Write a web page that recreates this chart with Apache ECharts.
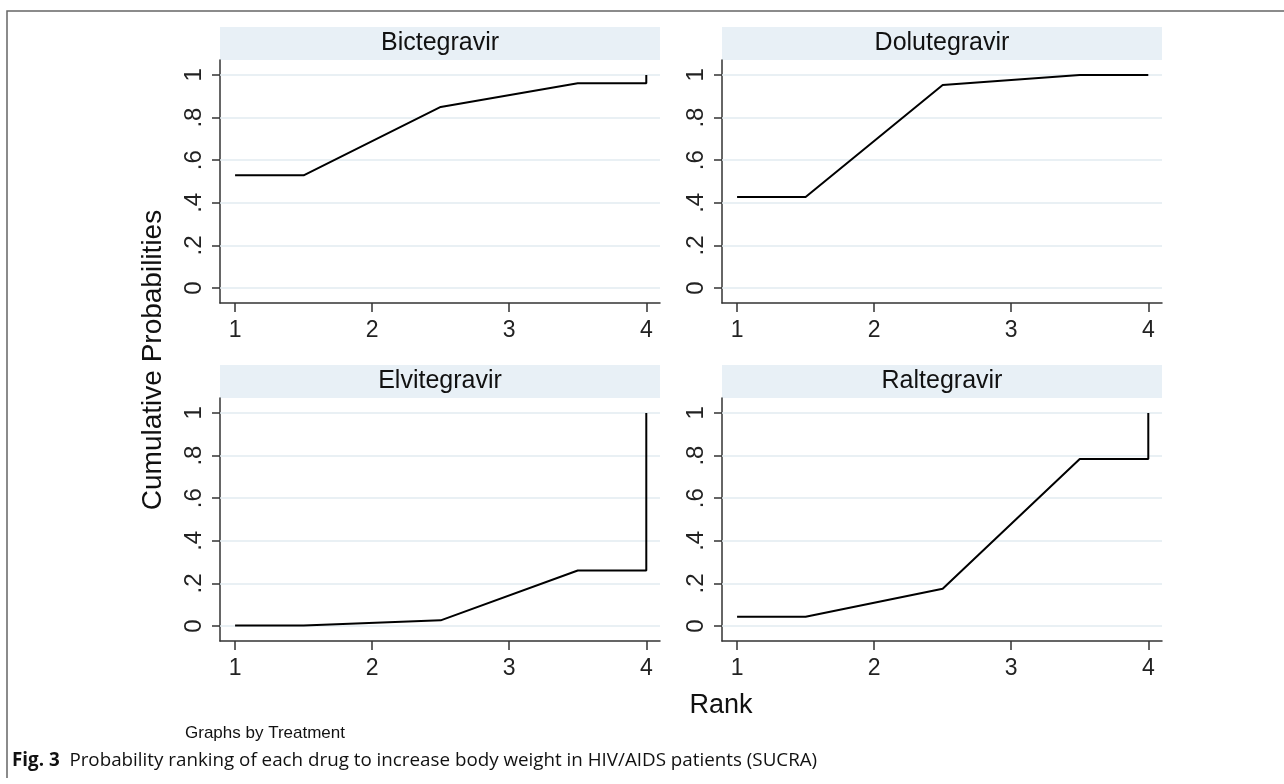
<!DOCTYPE html>
<html>
<head>
<meta charset="utf-8">
<script src="https://cdn.jsdelivr.net/npm/echarts@6/dist/echarts.min.js"></script>
<style>
html,body{margin:0;padding:0;background:#fff;}
#chart{width:1284px;height:784px;}
</style>
</head>
<body>
<div id="chart"></div>
<script>
// ---- data ----
const ranks = [1, 1.5, 2.5, 3.5, 4, 4];
const drugs = ['Bictegravir', 'Dolutegravir', 'Elvitegravir', 'Raltegravir'];
const bictegravir  = [0.529, 0.529, 0.850, 0.961, 0.961, 1.0];
const dolutegravir = [0.427, 0.427, 0.953, 1.0, 1.0, 1.0];
const elvitegravir = [0.003, 0.003, 0.027, 0.261, 0.261, 1.0];
const raltegravir  = [0.044, 0.044, 0.175, 0.784, 0.784, 1.0];
const seriesValues = [bictegravir, dolutegravir, elvitegravir, raltegravir];
const xTicks = [1, 2, 3, 4];
const yTicks = [0, 0.2, 0.4, 0.6, 0.8, 1];
const yTickLabels = ['0', '.2', '.4', '.6', '.8', '1'];
const yTitle = 'Cumulative Probabilities';
const xTitle = 'Rank';
const noteText = 'Graphs by Treatment';
const captionBold = 'Fig. 3';
const captionText = 'Probability ranking of each drug to increase body weight in HIV/AIDS patients (SUCRA)';

// ---- layout ----
const panelLefts = [220, 722, 220, 722];
const panelTops = [60, 60, 398, 398];
const panelW = 440, panelH = 243, stripH = 33;
const font = '"Liberation Sans", Arial, Helvetica, sans-serif';
const axisColor = '#333';

const grids = [], xAxes = [], yAxes = [], series = [], graphics = [];
drugs.forEach((name, i) => {
  grids.push({left: panelLefts[i], top: panelTops[i], width: panelW, height: panelH});
  xAxes.push({
    type: 'value', gridIndex: i, min: 0.89, max: 4.1,
    axisLine: {show: true, onZero: false, lineStyle: {color: axisColor, width: 1.5}},
    axisTick: {show: true, length: 9, customValues: xTicks, lineStyle: {color: axisColor, width: 1.5}},
    axisLabel: {customValues: xTicks, fontSize: 23, color: '#222', fontFamily: font, margin: 16},
    splitLine: {show: false}
  });
  yAxes.push({
    type: 'value', gridIndex: i, min: -0.07, max: 1.07,
    axisLine: {show: true, onZero: false, lineStyle: {color: axisColor, width: 1.5}},
    axisTick: {show: true, length: 8, customValues: yTicks, lineStyle: {color: axisColor, width: 1.5}},
    axisLabel: {
      customValues: yTicks, rotate: 90, fontSize: 24, color: '#222', fontFamily: font, margin: 14,
      formatter: v => { const k = yTicks.findIndex(t => Math.abs(t - v) < 1e-6); return k >= 0 ? yTickLabels[k] : ''; }
    },
    splitLine: {show: false}
  });
  // gridlines
  series.push({
    type: 'line', xAxisIndex: i, yAxisIndex: i, data: [], z: 1, silent: true,
    markLine: {
      silent: true, symbol: ['none', 'none'], label: {show: false}, animation: false,
      lineStyle: {color: '#E2EBF0', width: 1.5, type: 'solid'},
      data: yTicks.map(v => ({yAxis: v}))
    }
  });
  series.push({
    type: 'line', name: name, xAxisIndex: i, yAxisIndex: i, z: 3, zlevel: 1,
    showSymbol: false, symbol: 'none',
    lineStyle: {color: '#000', width: 2},
    data: ranks.map((r, k) => [r, seriesValues[i][k]])
  });
  // header strip
  graphics.push({
    type: 'rect', z: 0,
    shape: {x: panelLefts[i], y: panelTops[i] - stripH, width: panelW, height: stripH},
    style: {fill: '#E8F0F6'}
  });
  graphics.push({
    type: 'text', z: 5,
    x: panelLefts[i] + panelW / 2, y: panelTops[i] - stripH / 2,
    style: {text: name, font: '25px ' + font, fill: '#111', align: 'center', verticalAlign: 'middle'}
  });
});

graphics.push({
  type: 'text', x: 153, y: 360, rotation: Math.PI / 2,
  style: {text: yTitle, font: '28px ' + font, fill: '#111', align: 'center', verticalAlign: 'middle'}
});
graphics.push({
  type: 'text', x: 721, y: 706,
  style: {text: xTitle, font: '27px ' + font, fill: '#111', align: 'center', verticalAlign: 'middle'}
});
graphics.push({
  type: 'text', x: 185, y: 733,
  style: {text: noteText, font: '17px ' + font, fill: '#111', align: 'left', verticalAlign: 'middle'}
});
graphics.push({
  type: 'text', x: 12, y: 761,
  style: {
    text: '{b|' + captionBold + '}  ' + captionText,
    font: '18.8px "Open Sans", sans-serif', fill: '#111', align: 'left', verticalAlign: 'middle',
    rich: {b: {fontWeight: 'bold', fontSize: 18.8, fontFamily: '"Open Sans", sans-serif', fill: '#111'}}
  }
});
// frame (top + left)
graphics.push({
  type: 'polyline', silent: true,
  shape: {points: [[7, 778], [7, 11], [1284, 11]]},
  style: {stroke: '#666', lineWidth: 1.5, fill: null}
});

const chart = echarts.init(document.getElementById('chart'), null, {renderer: 'canvas'});
chart.setOption({
  animation: false,
  backgroundColor: '#fff',
  grid: grids, xAxis: xAxes, yAxis: yAxes, series: series, graphic: graphics
});
</script>
</body>
</html>
